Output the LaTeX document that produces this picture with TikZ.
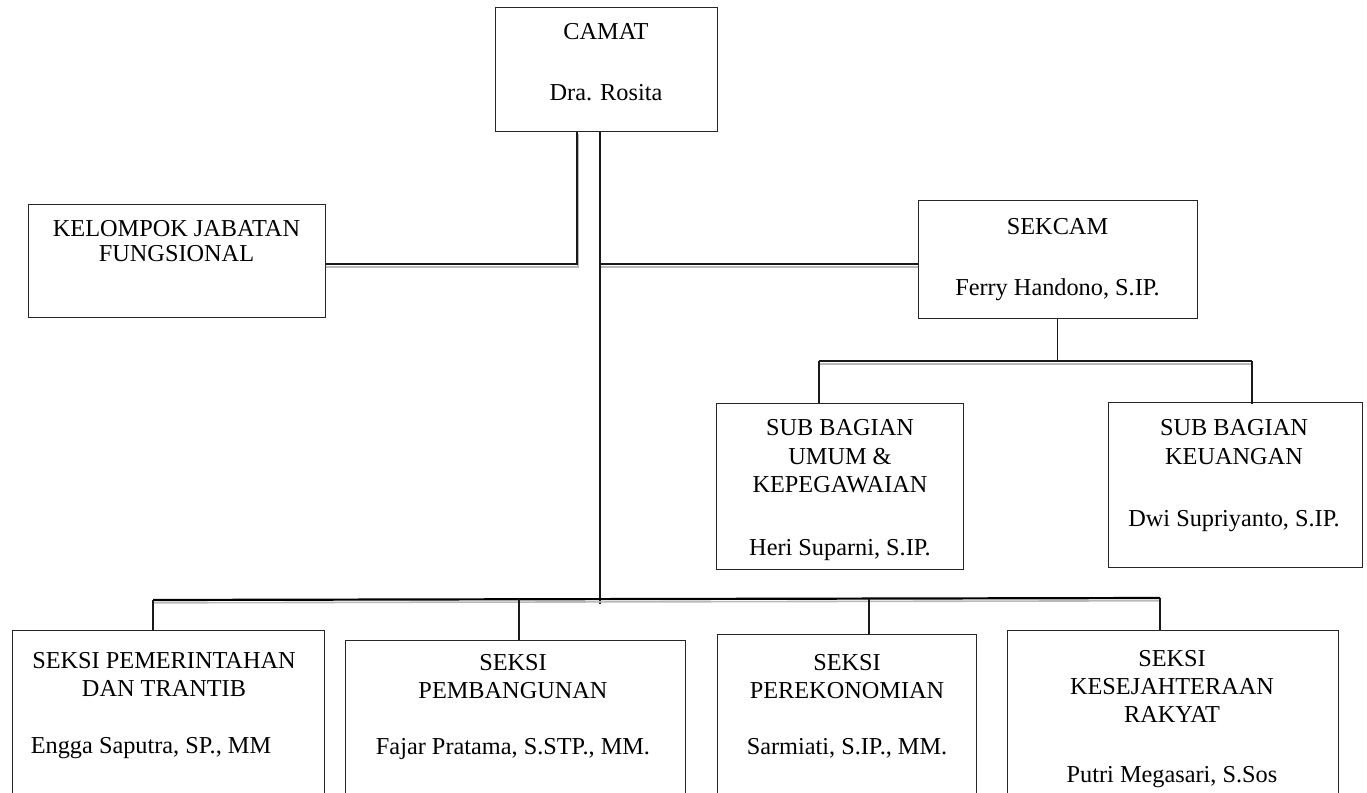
\documentclass[tikz,border=0pt]{standalone}
\usepackage{fontspec}
\setmainfont{Liberation Serif}
\usetikzlibrary{calc}
\tikzset{
  box/.style={draw=black!85, line width=1pt, inner sep=0pt, rectangle},
  txt/.style={font=\fontsize{24.3}{28}\selectfont, inner sep=0pt, anchor=base},
  conn/.style={draw=black!90, line width=1.1pt},
  thick conn/.style={draw=black, line width=2.2pt},
  shad/.style={draw=gray!55, line width=1.6pt, transform canvas={xshift=0.8pt,yshift=-2.8pt}}
}
\newcommand\twoline[2][conn]{\draw[shad] #2; \draw[#1] #2;}
\begin{document}
\begin{tikzpicture}[x=1pt,y=-1pt]
\useasboundingbox (0,0) rectangle (1367,792);
\clip (0,0) rectangle (1367,792);
% boxes
\node[box, minimum width=222pt, minimum height=123pt] (camat) at (606,69.5) {};
\node[box, minimum width=297pt, minimum height=113pt] (kel) at (176.5,260.5) {};
\node[box, minimum width=279pt, minimum height=118pt] (sekcam) at (1057.5,259) {};
\node[box, minimum width=247pt, minimum height=166pt] (umum) at (839.5,486) {};
\node[box, minimum width=254pt, minimum height=165pt] (keu) at (1235,484.5) {};
\node[box, minimum width=312pt, minimum height=170pt] (pem) at (168,715) {};
\node[box, minimum width=340pt, minimum height=160pt] (pemb) at (515,720) {};
\node[box, minimum width=259pt, minimum height=166pt] (ekon) at (846.5,717) {};
\node[box, minimum width=331pt, minimum height=170pt] (kesra) at (1172.5,715) {};
% texts
\node[txt] (t1) at (606,40) {CAMAT};
\node[txt] (t2) at (606,100) {Dra. Rosita};
\node[txt] (t3) at (176.5,236) {KELOMPOK JABATAN};
\node[txt] (t4) at (176.5,261) {FUNGSIONAL};
\node[txt] (t5) at (1057.5,234) {SEKCAM};
\node[txt] (t6) at (1057.5,295) {Ferry Handono, S.IP.};
\node[txt] (t7) at (840,435) {SUB BAGIAN};
\node[txt] (t8) at (840,464) {UMUM \&};
\node[txt] (t9) at (840,492) {KEPEGAWAIAN};
\node[txt] (t10) at (840,555) {Heri Suparni, S.IP.};
\node[txt] (t11) at (1234,435) {SUB BAGIAN};
\node[txt] (t12) at (1234,464) {KEUANGAN};
\node[txt] (t13) at (1234,526) {Dwi Supriyanto, S.IP.};
\node[txt] (t14) at (164,668) {SEKSI PEMERINTAHAN};
\node[txt] (t15) at (164,696) {DAN TRANTIB};
\node[txt] (t16) at (151,753) {Engga Saputra, SP., MM};
\node[txt] (t17) at (513,670) {SEKSI};
\node[txt] (t18) at (513,698) {PEMBANGUNAN};
\node[txt] (t19) at (513,754) {Fajar Pratama, S.STP., MM.};
\node[txt] (t20) at (847,670) {SEKSI};
\node[txt] (t21) at (847,698) {PEREKONOMIAN};
\node[txt] (t22) at (847,754) {Sarmiati, S.IP., MM.};
\node[txt] (t23) at (1172,666) {SEKSI};
\node[txt] (t24) at (1172,694) {KESEJAHTERAAN};
\node[txt] (t25) at (1172,722) {RAKYAT};
\node[txt] (t26) at (1172,782) {Putri Megasari, S.Sos};
% coordinates
\coordinate (lt) at (577,264);
\coordinate (tr) at (600,604);
\coordinate (ua) at (819,361);
\coordinate (ub) at (1252,361);
\coordinate (b1) at (153,600);
\coordinate (b2) at (519,599.4);
\coordinate (b3) at (869,598.7);
\coordinate (b4) at (1160,598);
% connectors
\twoline{(camat.south -| lt) -- (lt) -- ([yshift=-3.5pt]kel.east)}
\draw[conn] (camat.south -| tr) -- (tr);
\twoline{([yshift=-5pt]sekcam.west -| tr) -- ([yshift=-5pt]sekcam.west)}
\draw[conn] (sekcam.south) -- (sekcam.south |- ua);
\twoline{(ua) -- (ub)}
\draw[conn] (ua) -- (umum.north -| ua);
\draw[conn] (ub) -- ([yshift=-2pt]keu.north -| ub);
\twoline[thick conn]{(b1) -- (b4)}
\draw[conn] (b1) -- (pem.north -| b1);
\draw[conn] (b2) -- (pemb.north -| b2);
\draw[conn] (b3) -- (ekon.north -| b3);
\draw[conn] (b4) -- (kesra.north -| b4);
\end{tikzpicture}
\end{document}
